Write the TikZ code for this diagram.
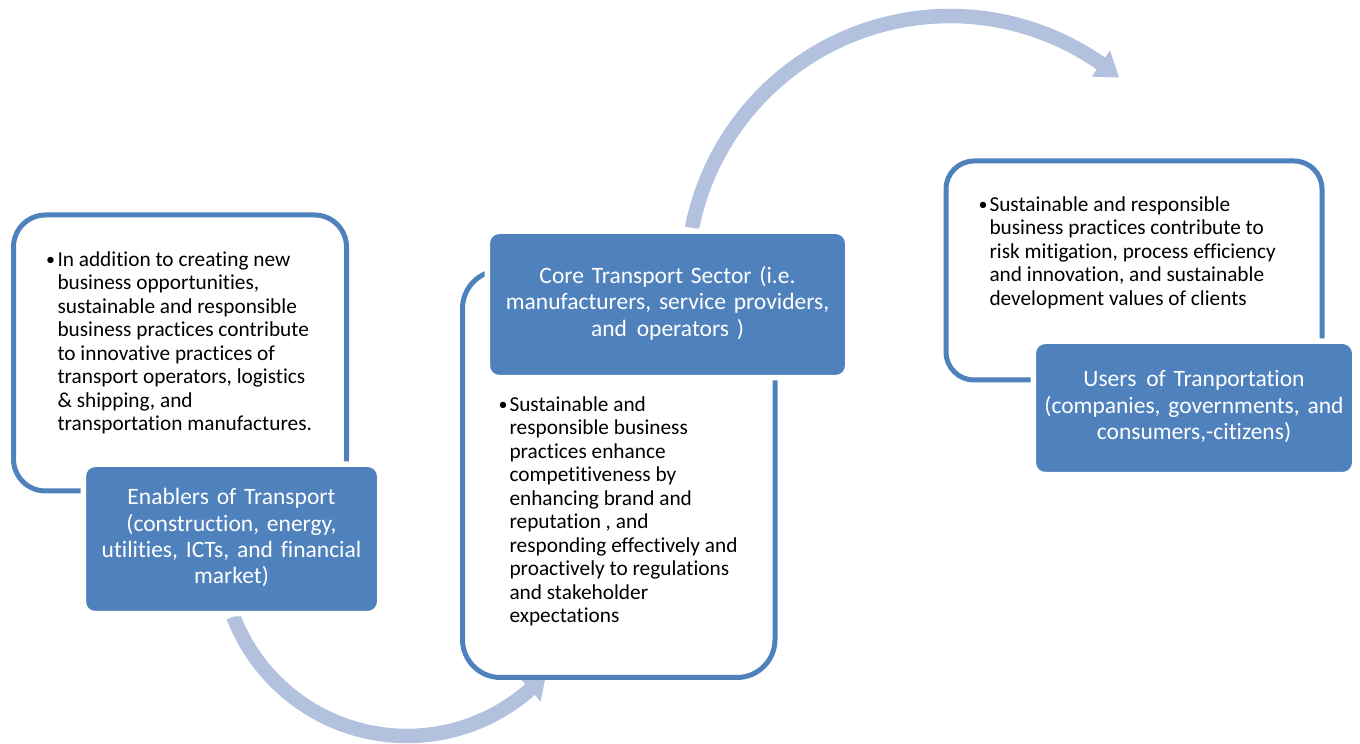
\documentclass[tikz,border=0pt]{standalone}
\usepackage{fontspec}
\setmainfont{Carlito}[Ligatures={CommonOff}]
\definecolor{boxblue}{HTML}{4F81BD}
\definecolor{arrowblue}{HTML}{B2C1DD}
\tikzset{
  outlinebox/.style={draw=boxblue, line width=5pt, fill=white, inner sep=0pt},
  bluebox/.style={draw=white, line width=5.5pt, fill=boxblue, rounded corners=12pt, inner sep=0pt,
    text=white, align=center, font=\fontsize{23.5}{26.4}\selectfont},
  bodytext/.style={anchor=north west, inner sep=0pt, align=left, font=\fontsize{21.3}{23.5}\selectfont},
  bulletmark/.style={anchor=base west, inner sep=0pt, font=\fontsize{18}{23.5}\selectfont},
  shaft/.style={draw=arrowblue, line width=14.5pt},
  head/.style={fill=arrowblue, draw=none}
}
\begin{document}
\begin{tikzpicture}[x=1pt,y=1pt]
\useasboundingbox (0,0) rectangle (1360,744);
% arrow centres
\coordinate (c1) at (407,194);
\coordinate (c2) at (950,465);
% bottom arrow
\draw[shaft] ([shift={(201:186)}]c1) arc[start angle=201, end angle=312.5, radius=186];
\fill[head] ([shift={(318.5:186)}]c1) -- ([shift={(311.4:170)}]c1) -- ([shift={(311.4:202)}]c1) -- cycle;
% top arrow
\draw[shaft] ([shift={(168.8:263)}]c2) arc[start angle=168.8, end angle=54, radius=263];
\fill[head] ([shift={(50:263)}]c2) -- ([shift={(55:247)}]c2) -- ([shift={(55:279)}]c2) -- cycle;
% outline boxes
\node[outlinebox, rounded corners=32pt, minimum width=333pt, minimum height=276pt] (o1) at (180,391) {};
\node[outlinebox, rounded corners=38pt, minimum width=312.5pt, minimum height=407pt] (o2) at (618.75,270) {};
\node[outlinebox, rounded corners=28pt, minimum width=376pt, minimum height=219pt] (o3) at (1134,473.5) {};
% blue boxes
\node[bluebox, minimum width=296.5pt, minimum height=149.5pt, text width=291pt] (b1) at (231.5,205)
  {\strut Enablers of Transport\\(construction, energy,\\utilities, ICTs, and financial\\market)\strut};
\node[bluebox, minimum width=360.5pt, minimum height=146.5pt, text width=355pt] (b2) at (667.5,439.5)
  {\strut Core Transport Sector (i.e.\\manufacturers, service providers,\\and\hspace{0.42em}operators )\strut};
\node[bluebox, minimum width=321.5pt, minimum height=133.5pt, text width=316pt] (b3) at (1194,336)
  {\strut Users\hspace{0.42em}of Tranportation\\(companies, governments, and\\consumers,-citizens)\strut};
% body texts
\node[bulletmark] (m1) at (46,478) {•};
\node[bodytext] (t1) at (57.3,494.45) {\strut In addition to creating new\\business opportunities,\\sustainable and responsible\\business practices contribute\\to innovative practices of\\transport operators, logistics\\\& shipping, and\\transportation manufactures.};
\node[bulletmark] (m2) at (498.5,333) {•};
\node[bodytext] (t2) at (509.3,349.45) {\strut Sustainable and\\responsible business\\practices enhance\\competitiveness by\\enhancing brand and\\reputation , and\\responding effectively and\\proactively to regulations\\and stakeholder\\expectations};
\node[bulletmark] (m3) at (978.5,533) {•};
\node[bodytext] (t3) at (989.3,549.45) {\strut Sustainable and responsible\\business practices contribute to\\risk mitigation, process efficiency\\and innovation, and sustainable\\development values of clients};
\end{tikzpicture}
\end{document}
